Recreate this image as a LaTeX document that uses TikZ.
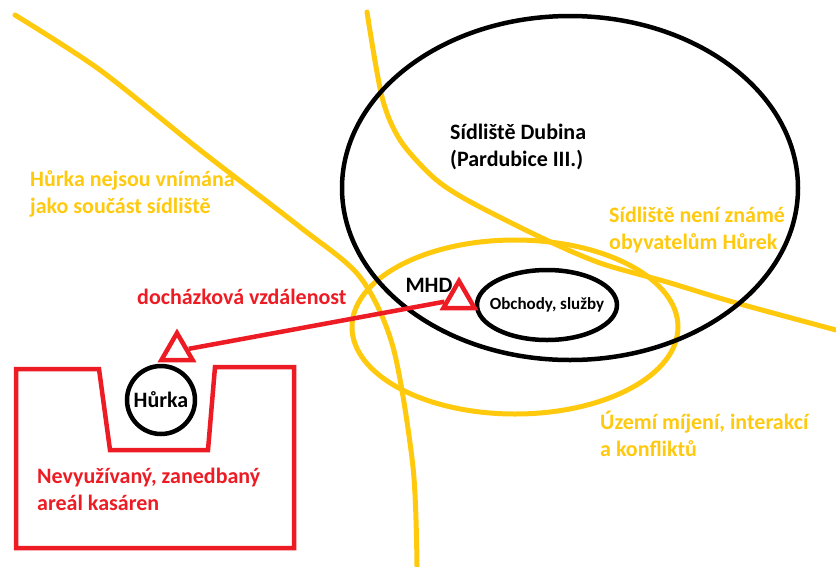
\documentclass[tikz,border=0pt]{standalone}
\usepackage{fontspec}
\setmainfont{Carlito}
\usepackage{tikz}
\usetikzlibrary{shapes.geometric}

\definecolor{PaintGold}{HTML}{FFC90E}
\definecolor{PaintRed}{HTML}{ED1C24}

\begin{document}
\begin{tikzpicture}[x=1pt, y=-1pt,
  zone/.style={draw=black, line width=4.5pt},
  %
  limit/.style={draw=PaintGold, line width=5pt, line cap=round},
  %
  barrier/.style={draw=PaintRed, line width=4.5pt},
  %
  stop/.style={regular polygon, regular polygon sides=3, draw=PaintRed,
    line width=4.5pt, minimum size=36pt, inner sep=0pt},
  %
  place/.style={draw=black, line width=4.5pt, inner sep=0pt,
    font=\bfseries\fontsize{22}{27}\selectfont},
  %
  note/.style={inner sep=0pt, align=left, anchor=west,
    font=\bfseries\fontsize{22}{27}\selectfont}
  ]

  \useasboundingbox (0,0) rectangle (836,566);

  \begin{scope}
    % hranice vnimani
    \draw [limit] plot [smooth] coordinates {(15,15) (100,70) (200,150)
      (300,227) (360,277) (393,347) (413,467) (417,566)};
    \draw [limit] plot [smooth] coordinates {(367,12) (382,97) (400,140)
      (433,177) (467,200) (540,237) (600,263) (667,282) (733,302) (836,330)};
    \draw [limit] (515,327) ellipse [x radius=163pt, y radius=87pt];
  \end{scope}

  \begin{scope}
    % sidliste a kasarna
    \draw [zone] (570,188) ellipse [x radius=228pt, y radius=172pt];
    \draw [barrier] (16,369) -- (99,369) -- (110,450) -- (208,450)
      -- (215,367) -- (294,367) -- (294,548) -- (16,548) -- cycle;
  \end{scope}

  \node [place, ellipse, inner xsep=-9pt, minimum width=140pt,
    minimum height=70pt, font=\bfseries\fontsize{17}{20}\selectfont]
    (obchody) at (547,305) {Obchody, služby};
  \node [place, circle, minimum size=68pt] (hurka) at (161,400) {Hůrka};

  \node [stop] (mhdstop) at (459,299) {};
  \node [stop] (hurkastop) at (177,351) {};
  \draw [barrier] (mhdstop) -- (hurkastop);

  \node [note, anchor=center] (mhd) at (429,285) {MHD};
  \node [note] (dubina) at (450,147) {Sídliště Dubina\\(Pardubice III.)};
  \node [note, PaintGold] (nevnimana) at (30,194)
    {Hůrka nejsou vnímána\\jako součást sídliště};
  \node [note, PaintGold] (neznamo) at (609,230)
    {Sídliště není známé\\obyvatelům Hůrek};
  \node [note, PaintGold] (uzemi) at (600,434)
    {Území míjení, interakcí\\a konfliktů};
  \node [note, PaintRed] (vzdalenost) at (137,297) {docházková vzdálenost};
  \node [note, PaintRed] (kasarna) at (37,489)
    {Nevyužívaný, zanedbaný\\areál kasáren};

\end{tikzpicture}
\end{document}
